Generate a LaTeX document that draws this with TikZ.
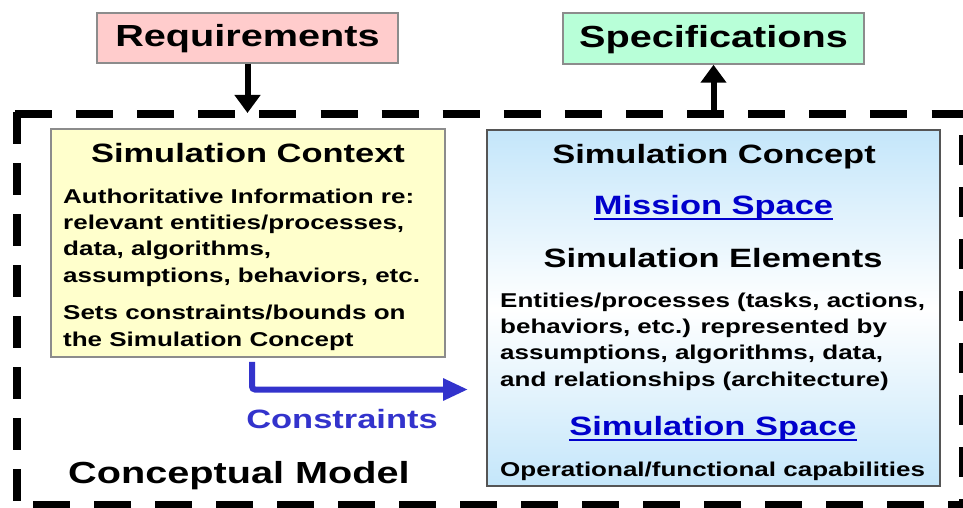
\documentclass[tikz,border=0pt]{standalone}
\usepackage{fontspec}
\setmainfont{Liberation Sans}[FakeStretch=1.3]
\usetikzlibrary{arrows.meta}
\definecolor{reqfill}{HTML}{FFCCCC}
\definecolor{specfill}{HTML}{B8FFD8}
\definecolor{ctxfill}{HTML}{FFFFCC}
\definecolor{conblue}{HTML}{C4E6FA}
\definecolor{linkblue}{HTML}{0000CC}
\definecolor{arrblue}{HTML}{3333CC}
\definecolor{boxedge}{HTML}{8C8C8C}
\definecolor{darkedge}{HTML}{555555}
\newcommand\lnkul[1]{\setbox0\hbox{#1}\rlap{\rule[-6pt]{\wd0}{2.5pt}}\box0}
\begin{document}
\begin{tikzpicture}[x=1pt,y=-1pt,
  topbox/.style={draw=boxedge, line width=1.5pt, inner sep=0pt, text height=22pt, text depth=4pt,
    font=\fontsize{30.5pt}{36pt}\selectfont\bfseries},
  panel/.style={line width=1.5pt, inner sep=0pt},
  head/.style={inner sep=0pt, font=\fontsize{26.5pt}{32pt}\selectfont\bfseries},
  big/.style={inner sep=0pt, font=\fontsize{30.5pt}{36pt}\selectfont\bfseries},
  body/.style={inner sep=0pt, align=left, font=\fontsize{20pt}{26.3pt}\selectfont\bfseries},
  frameline/.style={line width=8pt},
  blkarrow/.style={line width=6pt, -{Triangle[length=18pt,width=25pt]}},
  bluarrow/.style={draw=arrblue, line width=6pt, rounded corners=3pt, -{Triangle[length=25pt,width=21pt]}}
]
\useasboundingbox (0,0) rectangle (963,508);

% dashed frame
\draw[frameline, dash pattern=on 37pt off 24.1pt] (15,114) -- (975,114);
\draw[frameline, dash pattern=on 32pt off 19pt] (17,112) -- (17,505);
\draw[frameline, dash pattern=on 37pt off 24pt] (33,505) -- (975,505);
\draw[frameline, dash pattern=on 30pt off 22pt] (963,135) -- (963,510);

% top boxes
\node[topbox, fill=reqfill, minimum width=301pt, minimum height=50pt] (req) at (247.5,38) {Requirements};
\node[topbox, fill=specfill, minimum width=301pt, minimum height=51pt] (spec) at (713.5,38.5) {Specifications};

% panels
\node[panel, draw=boxedge, fill=ctxfill, minimum width=394pt, minimum height=228pt] (ctx) at (248,243) {};
\node[panel, draw=darkedge, top color=conblue, bottom color=conblue, middle color=white,
  minimum width=453pt, minimum height=356pt] (concept) at (713.5,308) {};

% context text (multi-line nodes: base = last line)
\node[head, anchor=base] (ctxtitle) at (248,162) {Simulation Context};
\node[body, anchor=base west] (ctxbody1) at (63,282) {Authoritative Information re:\\relevant entities/processes,\\data, algorithms,\\assumptions, behaviors, etc.};
\node[body, anchor=base west] (ctxbody2) at (63,346) {Sets constraints/bounds on\\the Simulation Concept};

% concept text
\node[head, anchor=base] (cctitle) at (714,163) {Simulation Concept};
\node[head, anchor=base, text=linkblue] (ms) at (713.5,214) {\lnkul{Mission Space}};
\node[head, anchor=base] (se) at (713,267) {Simulation Elements};
\node[body, anchor=base west] (sebody) at (500,386) {Entities/processes (tasks, actions,\\behaviors, etc.) represented by\\assumptions, algorithms, data,\\and relationships (architecture)};
\node[head, anchor=base, text=linkblue] (ss) at (713,435) {\lnkul{Simulation Space}};
\node[body, anchor=base west] (ops) at (500,476) {Operational/functional capabilities};

% labels
\node[head, anchor=base, text=arrblue] (conlbl) at (342,428) {Constraints};
\node[big, anchor=base west] (cm) at (68,483) {Conceptual Model};

% arrows
\coordinate (rtip) at (247.5,113);
\draw[blkarrow] (req.south) -- (rtip);
\coordinate (sbase) at (713.5,117);
\draw[blkarrow] (sbase) -- (spec.south);
\coordinate (ctip) at (468,389.5);
\draw[bluarrow] ([xshift=4pt,yshift=-4pt]ctx.south) |- (ctip);
\end{tikzpicture}
\end{document}
